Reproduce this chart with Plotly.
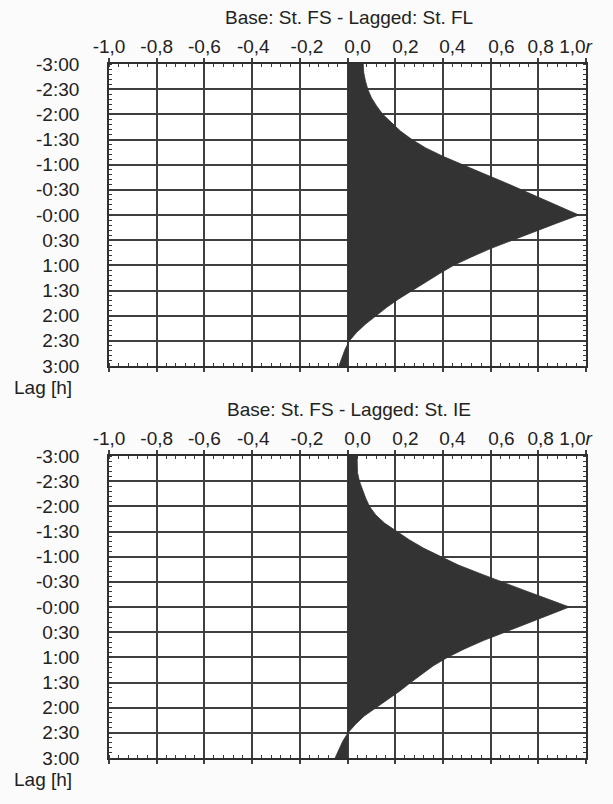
import plotly.graph_objects as go

# ---- data ----
LAG_MIN = [-180, -170, -160, -150, -140, -130, -120, -110, -100, -90, -80, -70, -60,
           -50, -40, -30, -20, -10, 0, 10, 20, 30, 40, 50, 60, 70, 80, 90, 100, 110,
           120, 130, 140, 150, 160, 170, 180]

R_FL = [0.066, 0.068, 0.075, 0.085, 0.100, 0.122, 0.148, 0.183, 0.222, 0.270, 0.328,
        0.400, 0.480, 0.565, 0.650, 0.730, 0.810, 0.890, 0.970, 0.875, 0.785, 0.690,
        0.600, 0.520, 0.445, 0.385, 0.328, 0.270, 0.215, 0.165, 0.120, 0.076, 0.038,
        0.008, -0.010, -0.022, -0.036]

R_IE = [0.040, 0.040, 0.042, 0.050, 0.062, 0.076, 0.092, 0.118, 0.155, 0.207, 0.260,
        0.320, 0.390, 0.465, 0.555, 0.645, 0.740, 0.835, 0.930, 0.840, 0.750, 0.660,
        0.570, 0.490, 0.420, 0.360, 0.310, 0.265, 0.220, 0.170, 0.115, 0.070, 0.033,
        0.002, -0.020, -0.035, -0.052]

Y_TICKVALS = [-180, -150, -120, -90, -60, -30, 0, 30, 60, 90, 120, 150, 180]
Y_TICKTEXT = ["-3:00", "-2:30", "-2:00", "-1:30", "-1:00", "-0:30", "-0:00",
              "0:30", "1:00", "1:30", "2:00", "2:30", "3:00"]

X_TICKVALS = [-1.0, -0.8, -0.6, -0.4, -0.2, 0.0, 0.2, 0.4, 0.6, 0.8, 1.0]
X_TICKTEXT = ["-1,0", "-0,8", "-0,6", "-0,4", "-0,2", "0,0", "0,2", "0,4", "0,6",
              "0,8", "1,0<i>r</i>"]

TITLES = ["Base: St. FS - Lagged: St. FL", "Base: St. FS - Lagged: St. IE"]
YLABEL = "Lag [h]"

# ---- layout constants (pixels in a 613 x 804 page) ----
W, H = 613, 804
X_LEFT, X_RIGHT = 109, 586
PLOTS_Y = [(64, 366), (456, 758)]
# where the original software printed each x label (shift in r units)
X_LABEL_SHIFT = [0.0, 0.0, 0.0, 0.005, 0.03, 0.042, 0.043, 0.04, 0.045, 0.01, -0.044]

FONT = "Liberation Sans, Arial, sans-serif"
TXT = "#222222"
GRID = "#3f3f3f"
FILL = "#333333"

fig = go.Figure()
series = [R_FL, R_IE]
for i, r in enumerate(series):
    sfx = "" if i == 0 else "2"
    fig.add_trace(go.Scatter(
        x=r, y=LAG_MIN, xaxis="x" + sfx, yaxis="y" + sfx,
        mode="lines", fill="tozerox", fillcolor=FILL,
        line=dict(color=FILL, width=0.8), hoverinfo="skip", showlegend=False))
    # empty trace so the label-only top axis is drawn for this panel
    fig.add_trace(go.Scatter(
        x=[], y=[], xaxis="x" + str(3 + i), yaxis="y" + sfx,
        mode="lines", hoverinfo="skip", showlegend=False))

layout = dict(width=W, height=H, autosize=False,
              margin=dict(l=0, r=0, t=0, b=0, autoexpand=False),
              paper_bgcolor="#fbfbfb", plot_bgcolor="#ffffff",
              font=dict(family=FONT, size=19, color=TXT),
              annotations=[])

xdom = [X_LEFT / W, X_RIGHT / W]
for i, (top, bot) in enumerate(PLOTS_Y):
    n = "" if i == 0 else "2"
    lab = str(3 + i)
    ydom = [1 - bot / H, 1 - top / H]
    layout["xaxis" + n] = dict(
        domain=xdom, anchor="y" + n, range=[-1, 1], side="top", automargin=False,
        tickmode="array", tickvals=X_TICKVALS, showticklabels=False,
        ticks="outside", ticklen=4, tickwidth=1.5, tickcolor=GRID,
        showgrid=True, gridcolor=GRID, gridwidth=1.6, zeroline=False,
        showline=True, linecolor="#2e2e2e", linewidth=1.8, mirror="allticks",
        minor=dict(tickmode="linear", tick0=0, dtick=0.04, ticks="inside",
                   ticklen=3, tickwidth=1.2, tickcolor="#3a3a3a", showgrid=False),
        fixedrange=True)
    layout["xaxis" + lab] = dict(
        overlaying="x" + n, anchor="y" + n, side="top", range=[-1, 1],
        automargin=False, tickmode="array",
        tickvals=[v + s for v, s in zip(X_TICKVALS, X_LABEL_SHIFT)],
        ticktext=X_TICKTEXT, ticks="", showgrid=False, zeroline=False,
        showline=False, ticklabelstandoff=6,
        tickfont=dict(family=FONT, size=19, color=TXT), fixedrange=True)
    layout["yaxis" + n] = dict(
        domain=ydom, anchor="x" + n, range=[180, -180], automargin=False,
        tickmode="array", tickvals=Y_TICKVALS, ticktext=Y_TICKTEXT,
        ticks="", ticklabelstandoff=24,
        showgrid=True, gridcolor=GRID, gridwidth=1.6, zeroline=False,
        showline=True, linecolor="#2e2e2e", linewidth=1.8, mirror="allticks",
        minor=dict(tickmode="linear", tick0=0, dtick=6, ticks="inside",
                   ticklen=3, tickwidth=1.2, tickcolor="#3a3a3a", showgrid=False),
        tickfont=dict(family=FONT, size=19, color=TXT), fixedrange=True)
    layout["annotations"].append(dict(
        text=TITLES[i], xref="paper", yref="paper", x=349 / W,
        y=1 - (top - 47) / H, xanchor="center", yanchor="middle",
        showarrow=False, font=dict(family=FONT, size=19, color=TXT)))
    layout["annotations"].append(dict(
        text=YLABEL, xref="paper", yref="paper", x=12 / W,
        y=1 - (bot + 21) / H, xanchor="left", yanchor="middle",
        showarrow=False, font=dict(family=FONT, size=19, color=TXT)))

fig.update_layout(**layout)
fig.write_html("out.html")
